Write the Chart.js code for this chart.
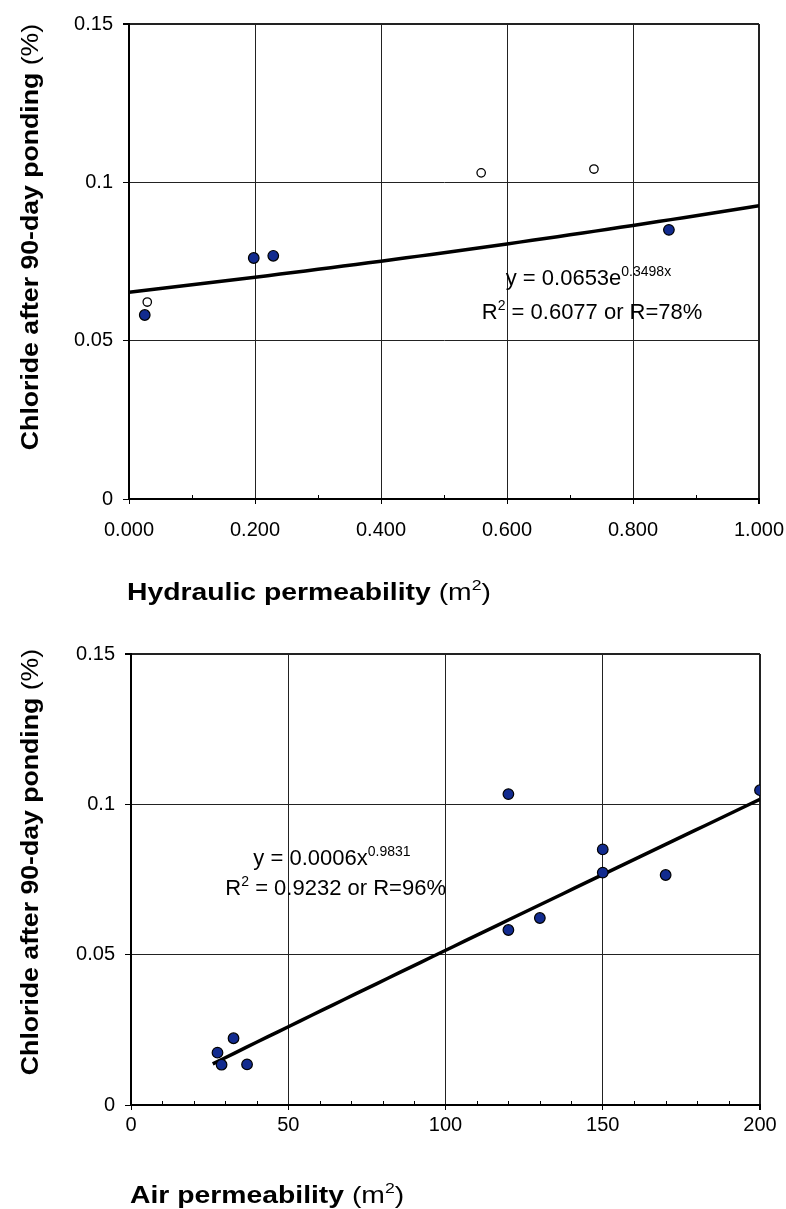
<!DOCTYPE html>
<html>
<head>
<meta charset="utf-8">
<script src="https://cdn.jsdelivr.net/npm/chart.js@4.4.1/dist/chart.umd.min.js"></script>
<style>
  body { margin: 0; background: #fff; }
  canvas { position: absolute; left: 0; }
  #hydraulic { top: 0; }
  #air { top: 620px; }
</style>
</head>
<body>
<canvas id="hydraulic" width="786" height="620"></canvas>
<canvas id="air" width="786" height="589"></canvas>
<script>
// Hydraulic permeability vs chloride (filled + open samples)
var hydFilledX = [0.025, 0.198, 0.229, 0.857];
var hydFilledY = [0.0581, 0.0761, 0.0768, 0.0850];
var hydOpenX = [0.029, 0.559, 0.738];
var hydOpenY = [0.0622, 0.1030, 0.1042];
// exponential trend y = a*e^(b*x)
var hydFitA = 0.0653, hydFitB = 0.3498;

// Air permeability vs chloride
var airX = [27.5, 32.6, 28.8, 36.9, 120, 120, 130, 150, 150, 170, 200];
var airY = [0.0174, 0.0222, 0.0134, 0.0135, 0.1034, 0.0582, 0.0622, 0.0850, 0.0773, 0.0765, 0.1047];
// power trend y = a*x^b (a is printed rounded as 0.0006)
var airFitA = 0.000556, airFitB = 0.9831;
var airFitFrom = 26, airFitTo = 200;

var yTickLabels = ['0', '0.05', '0.1', '0.15'];
var hydTickLabels = ['0.000', '0.200', '0.400', '0.600', '0.800', '1.000'];
var airTickLabels = ['0', '50', '100', '150', '200'];

var FONT = '"Liberation Sans", Arial, Helvetica, sans-serif';
Chart.defaults.font.family = FONT;
Chart.defaults.color = '#000';

function pairs(xs, ys) {
  return xs.map(function (x, i) { return { x: x, y: ys[i] }; });
}

function curve(fn, from, to, n) {
  var pts = [];
  for (var i = 0; i <= n; i++) {
    var x = from + (to - from) * i / n;
    pts.push({ x: x, y: fn(x) });
  }
  return pts;
}

//Rich text: bold / normal / superscript pieces
function pieceFont(p, size) {
  var s = p.sup ? Math.round(size * 0.64) : size;
  return (p.bold ? 'bold ' : '') + s + 'px ' + FONT;
}
function richWidth(ctx, parts, size) {
  var w = 0;
  parts.forEach(function (p) {
    ctx.font = pieceFont(p, size);
    w += ctx.measureText(p.t).width;
  });
  return w;
}
function drawRich(ctx, parts, size, sx) {
  var cx = 0;
  ctx.save();
  ctx.scale(sx, 1);
  ctx.textBaseline = 'alphabetic';
  ctx.fillStyle = '#000';
  parts.forEach(function (p) {
    ctx.font = pieceFont(p, size);
    ctx.fillText(p.t, cx, p.sup ? -size * 0.4 : 0);
    cx += ctx.measureText(p.t).width;
  });
  ctx.restore();
}

var extras = {
  id: 'extras',
  afterDraw: function (chart, args, opts) {
    var ctx = chart.ctx, xs = chart.scales.x, ys = chart.scales.y;
    var area = chart.chartArea;

    // small minor ticks pointing into the plot
    ctx.save();
    ctx.strokeStyle = '#000';
    ctx.lineWidth = 1;
    xs.ticks.forEach(function (t, i) {
      if (i % opts.majorEvery === 0) return;
      var px = Math.round(xs.getPixelForValue(t.value)) + 0.5;
      ctx.beginPath();
      ctx.moveTo(px, area.bottom);
      ctx.lineTo(px, area.bottom - 4);
      ctx.stroke();
    });
    ctx.restore();

    // x title
    ctx.save();
    ctx.translate(opts.xTitle.left, opts.xTitle.base);
    drawRich(ctx, opts.xTitle.parts, 24, 1.18);
    ctx.restore();

    // y title (rotated)
    ctx.save();
    ctx.translate(opts.yTitle.base, opts.yTitle.center);
    ctx.rotate(-Math.PI / 2);
    var w = richWidth(ctx, opts.yTitle.parts, 24) * 1.11;
    ctx.translate(-w / 2, 0);
    drawRich(ctx, opts.yTitle.parts, 24, 1.11);
    ctx.restore();

    // trend equations
    opts.notes.forEach(function (n) {
      ctx.save();
      ctx.translate(xs.getPixelForValue(n.x), ys.getPixelForValue(n.y));
      drawRich(ctx, n.parts, 22, 1);
      ctx.restore();
    });
  }
};

var yTitleParts = [{ t: 'Chloride after 90-day ponding ', bold: true }, { t: '(%)' }];

function makeChart(id, cfg) {
  return new Chart(document.getElementById(id), {
    type: 'scatter',
    data: { datasets: cfg.datasets },
    options: {
      responsive: false,
      animation: false,
      devicePixelRatio: 1,
      layout: { padding: cfg.padding },
      plugins: { legend: { display: false }, tooltip: { enabled: false }, extras: cfg.extras },
      scales: {
        x: {
          type: 'linear', min: cfg.xMin, max: cfg.xMax,
          afterFit: function (s) {
            s.height = cfg.xHeight;
            s.paddingLeft = 0;
            s.paddingRight = 0;
          },
          ticks: {
            stepSize: cfg.xStep, autoSkip: false, maxRotation: 0, padding: cfg.xPad,
            font: { size: 20 }, color: '#000',
            callback: function (v, i) { return i % cfg.majorEvery === 0 ? cfg.xLabels[i / cfg.majorEvery] : ''; }
          },
          grid: {
            color: function (c) { return c.index % cfg.majorEvery === 0 ? '#222' : 'rgba(0,0,0,0)'; },
            lineWidth: function (c) { return c.tick && c.tick.value === cfg.xMax ? 2 : 1; },
            tickColor: function (c) { return c.index % cfg.majorEvery === 0 ? '#000' : 'rgba(0,0,0,0)'; },
            tickLength: 5
          },
          border: { color: '#000', width: 2 }
        },
        y: {
          min: 0, max: 0.15,
          afterFit: function (s) { s.width = cfg.yWidth; },
          ticks: {
            stepSize: 0.05, padding: 10, font: { size: 20 }, color: '#000',
            callback: function (v, i) { return yTickLabels[i]; }
          },
          grid: {
            color: '#222',
            lineWidth: function (c) { return c.tick && c.tick.value === 0.15 ? 2 : 1; },
            tickColor: '#000',
            tickLength: 6
          },
          border: { color: '#000', width: 2 }
        }
      }
    },
    plugins: [extras]
  });
}

var filledStyle = {
  showLine: false, pointRadius: 5.3, pointBackgroundColor: '#122b8f',
  pointBorderColor: '#000', pointBorderWidth: 1.2
};
var openStyle = {
  showLine: false, pointRadius: 4.2, pointBackgroundColor: '#fff',
  pointBorderColor: '#000', pointBorderWidth: 1.3
};
var fitStyle = {
  showLine: true, pointRadius: 0, borderColor: '#000', borderWidth: 3.5, fill: false
};

makeChart('hydraulic', {
  datasets: [
    Object.assign({ data: pairs(hydFilledX, hydFilledY) }, filledStyle),
    Object.assign({ data: pairs(hydOpenX, hydOpenY) }, openStyle),
    Object.assign({ data: curve(function (x) { return hydFitA * Math.exp(hydFitB * x); }, 0, 1, 50) }, fitStyle)
  ],
  padding: { top: 24, right: 27, left: 0, bottom: 0 },
  xMin: 0, xMax: 1, xStep: 0.1, majorEvery: 2, xLabels: hydTickLabels,
  xHeight: 121, yWidth: 129, xPad: 14,
  extras: {
    majorEvery: 2,
    xTitle: { left: 127, base: 600, parts: [{ t: 'Hydraulic permeability ', bold: true }, { t: '(m' }, { t: '2', sup: true }, { t: ')' }] },
    yTitle: { base: 38, center: 237, parts: yTitleParts },
    notes: [
      { x: 0.598, y: 0.0676, parts: [{ t: 'y = 0.0653e' }, { t: '0.3498x', sup: true }] },
      { x: 0.560, y: 0.0569, parts: [{ t: 'R' }, { t: '2', sup: true }, { t: ' = 0.6077 or R=78%' }] }
    ]
  }
});

makeChart('air', {
  datasets: [
    Object.assign({ data: pairs(airX, airY) }, filledStyle),
    Object.assign({ data: curve(function (x) { return airFitA * Math.pow(x, airFitB); }, airFitFrom, airFitTo, 50) }, fitStyle)
  ],
  padding: { top: 34, right: 26, left: 0, bottom: 0 },
  xMin: 0, xMax: 200, xStep: 10, majorEvery: 5, xLabels: airTickLabels,
  xHeight: 104, yWidth: 131, xPad: 3,
  extras: {
    majorEvery: 5,
    xTitle: { left: 130, base: 583, parts: [{ t: 'Air permeability ', bold: true }, { t: '(m' }, { t: '2', sup: true }, { t: ')' }] },
    yTitle: { base: 38, center: 242, parts: yTitleParts },
    notes: [
      { x: 38.9, y: 0.0798, parts: [{ t: 'y = 0.0006x' }, { t: '0.9831', sup: true }] },
      { x: 30.0, y: 0.0699, parts: [{ t: 'R' }, { t: '2', sup: true }, { t: ' = 0.9232 or R=96%' }] }
    ]
  }
});
</script>
</body>
</html>
